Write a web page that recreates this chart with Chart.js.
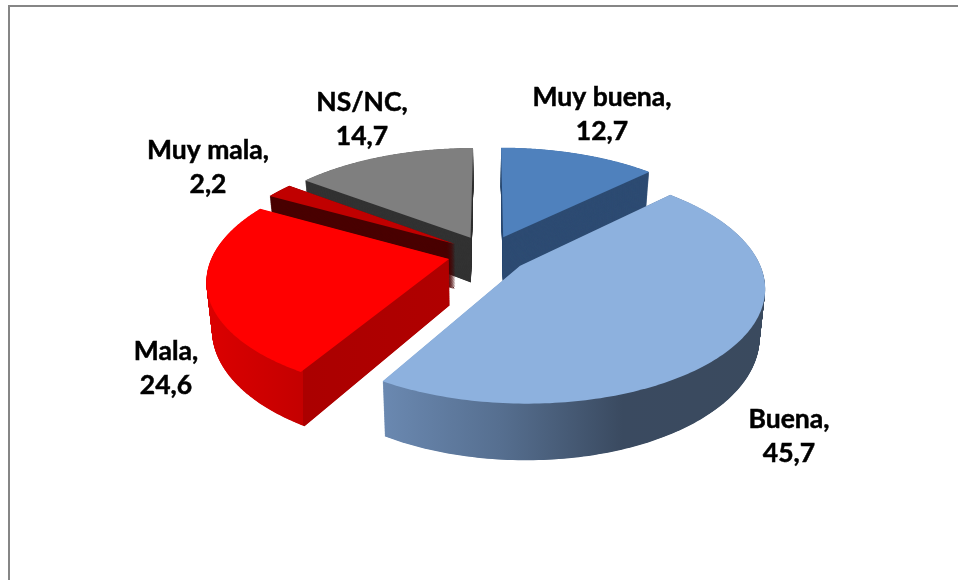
<!DOCTYPE html>
<html>
<head>
<meta charset="utf-8">
<style>
  html, body { margin: 0; padding: 0; background: #fff; }
  #pie3d { display: block; }
</style>
<script src="https://cdn.jsdelivr.net/npm/chart.js@4"></script>
</head>
<body>
<canvas id="pie3d" width="958" height="580"></canvas>
<script>
var categories = ["Muy buena", "Buena", "Mala", "Muy mala", "NS/NC"];
var values = [12.7, 45.7, 24.6, 2.2, 14.7];
var topColors = ["#4f81bd", "#8db1de", "#ff0000", "#c00000", "#7f7f7f"];

// back to front, the pie is flat for Chart.js so we paint in this order
var paintOrder = [4, 0, 3, 2, 1];

// centre of each label, two lines
var labelCenters = [[602, 97], [789, 419], [166, 351], [208, 150], [362, 102]];

// floor projection of the unit pie
var view = { cx: 488, cy: 254, a: 236, b: 110, p: 0.17, explode: 0.17, depth: 46, taper: 0.02 };

function sideFill(ctx, i) {
  var g;
  if (i === 0) return "#2e4c73";
  if (i === 3) return "#4a0000";
  if (i === 4) return "#333333";
  if (i === 1) {
    g = ctx.createLinearGradient(385, 0, 768, 0);
    g.addColorStop(0, "#6a88b0");
    g.addColorStop(0.3, "#566f90");
    g.addColorStop(0.62, "#3a4a60");
    g.addColorStop(1, "#3a4a5e");
    return g;
  }
  g = ctx.createLinearGradient(205, 0, 450, 0);
  g.addColorStop(0, "#dc0000");
  g.addColorStop(0.4, "#c40000");
  g.addColorStop(0.4, "#ab0000");
  g.addColorStop(1, "#b00000");
  return g;
}

// stands in for the canvas context while an ArcElement draws itself,
// every point goes through the perspective before it reaches the real one
function projectedContext(ctx, arc, t) {
  var mid = (arc.startAngle + arc.endAngle) / 2;
  var R = arc.outerRadius;
  function put(x, y) {
    var u = (x - arc.x) / R + Math.cos(mid) * view.explode;
    var v = -(y - arc.y) / R - Math.sin(mid) * view.explode;
    var w = 1 + view.p * v;
    var dx = view.a * u / w * (1 - view.taper * t);
    return [view.cx + dx, view.cy - view.b * v / w + t * view.depth / w];
  }
  return {
    save: function() {},
    restore: function() {},
    translate: function() {},
    beginPath: function() { ctx.beginPath(); },
    closePath: function() { ctx.closePath(); },
    lineTo: function(x, y) { var q = put(x, y); ctx.lineTo(q[0], q[1]); },
    moveTo: function(x, y) { var q = put(x, y); ctx.moveTo(q[0], q[1]); },
    arc: function(x, y, r, a0, a1, ccw) {
      var steps = 80;
      for (var s = 0; s <= steps; s++) {
        var a = a0 + (a1 - a0) * s / steps;
        this.lineTo(x + Math.cos(a) * r, y + Math.sin(a) * r);
      }
    },
    fill: function() { ctx.fillStyle = this.fillStyle; ctx.fill(); },
    stroke: function() {}
  };
}

var pie3d = {
  id: "pie3d",
  beforeDatasetsDraw: function(chart) {
    var ctx = chart.ctx;
    var arcs = chart.getDatasetMeta(0).data;

    // frame
    ctx.fillStyle = "#868686";
    ctx.fillRect(8, 5, 950, 2);
    ctx.fillRect(8, 5, 2, 575);

    paintOrder.forEach(function(i) {
      var arc = arcs[i];
      var top = arc.options;
      arc.options = Object.assign({}, top, { backgroundColor: sideFill(ctx, i), borderWidth: 0 });
      for (var layer = 120; layer > 0; layer--) {
        arc.draw(projectedContext(ctx, arc, layer / 120));
      }
      arc.options = top;
      arc.draw(projectedContext(ctx, arc, 0));
    });
    return false;
  },
  afterDraw: function(chart) {
    var ctx = chart.ctx;
    ctx.fillStyle = "#000";
    ctx.strokeStyle = "#000";
    ctx.lineWidth = 0.5;
    ctx.font = "bold 26.5px Lato";
    ctx.textAlign = "center";
    ctx.textBaseline = "middle";
    categories.forEach(function(name, i) {
      var c = labelCenters[i];
      var value = String(values[i]).replace(".", ",");
      ctx.fillText(name + ",", c[0], c[1]);
      ctx.strokeText(name + ",", c[0], c[1]);
      ctx.fillText(value, c[0], c[1] + 34);
      ctx.strokeText(value, c[0], c[1] + 34);
    });
  }
};

new Chart(document.getElementById("pie3d").getContext("2d"), {
  type: "pie",
  data: {
    labels: categories,
    datasets: [{ data: values, backgroundColor: topColors, borderWidth: 0 }]
  },
  options: {
    responsive: false,
    animation: false,
    plugins: { legend: { display: false }, tooltip: { enabled: false } }
  },
  plugins: [pie3d]
});
</script>
</body>
</html>
